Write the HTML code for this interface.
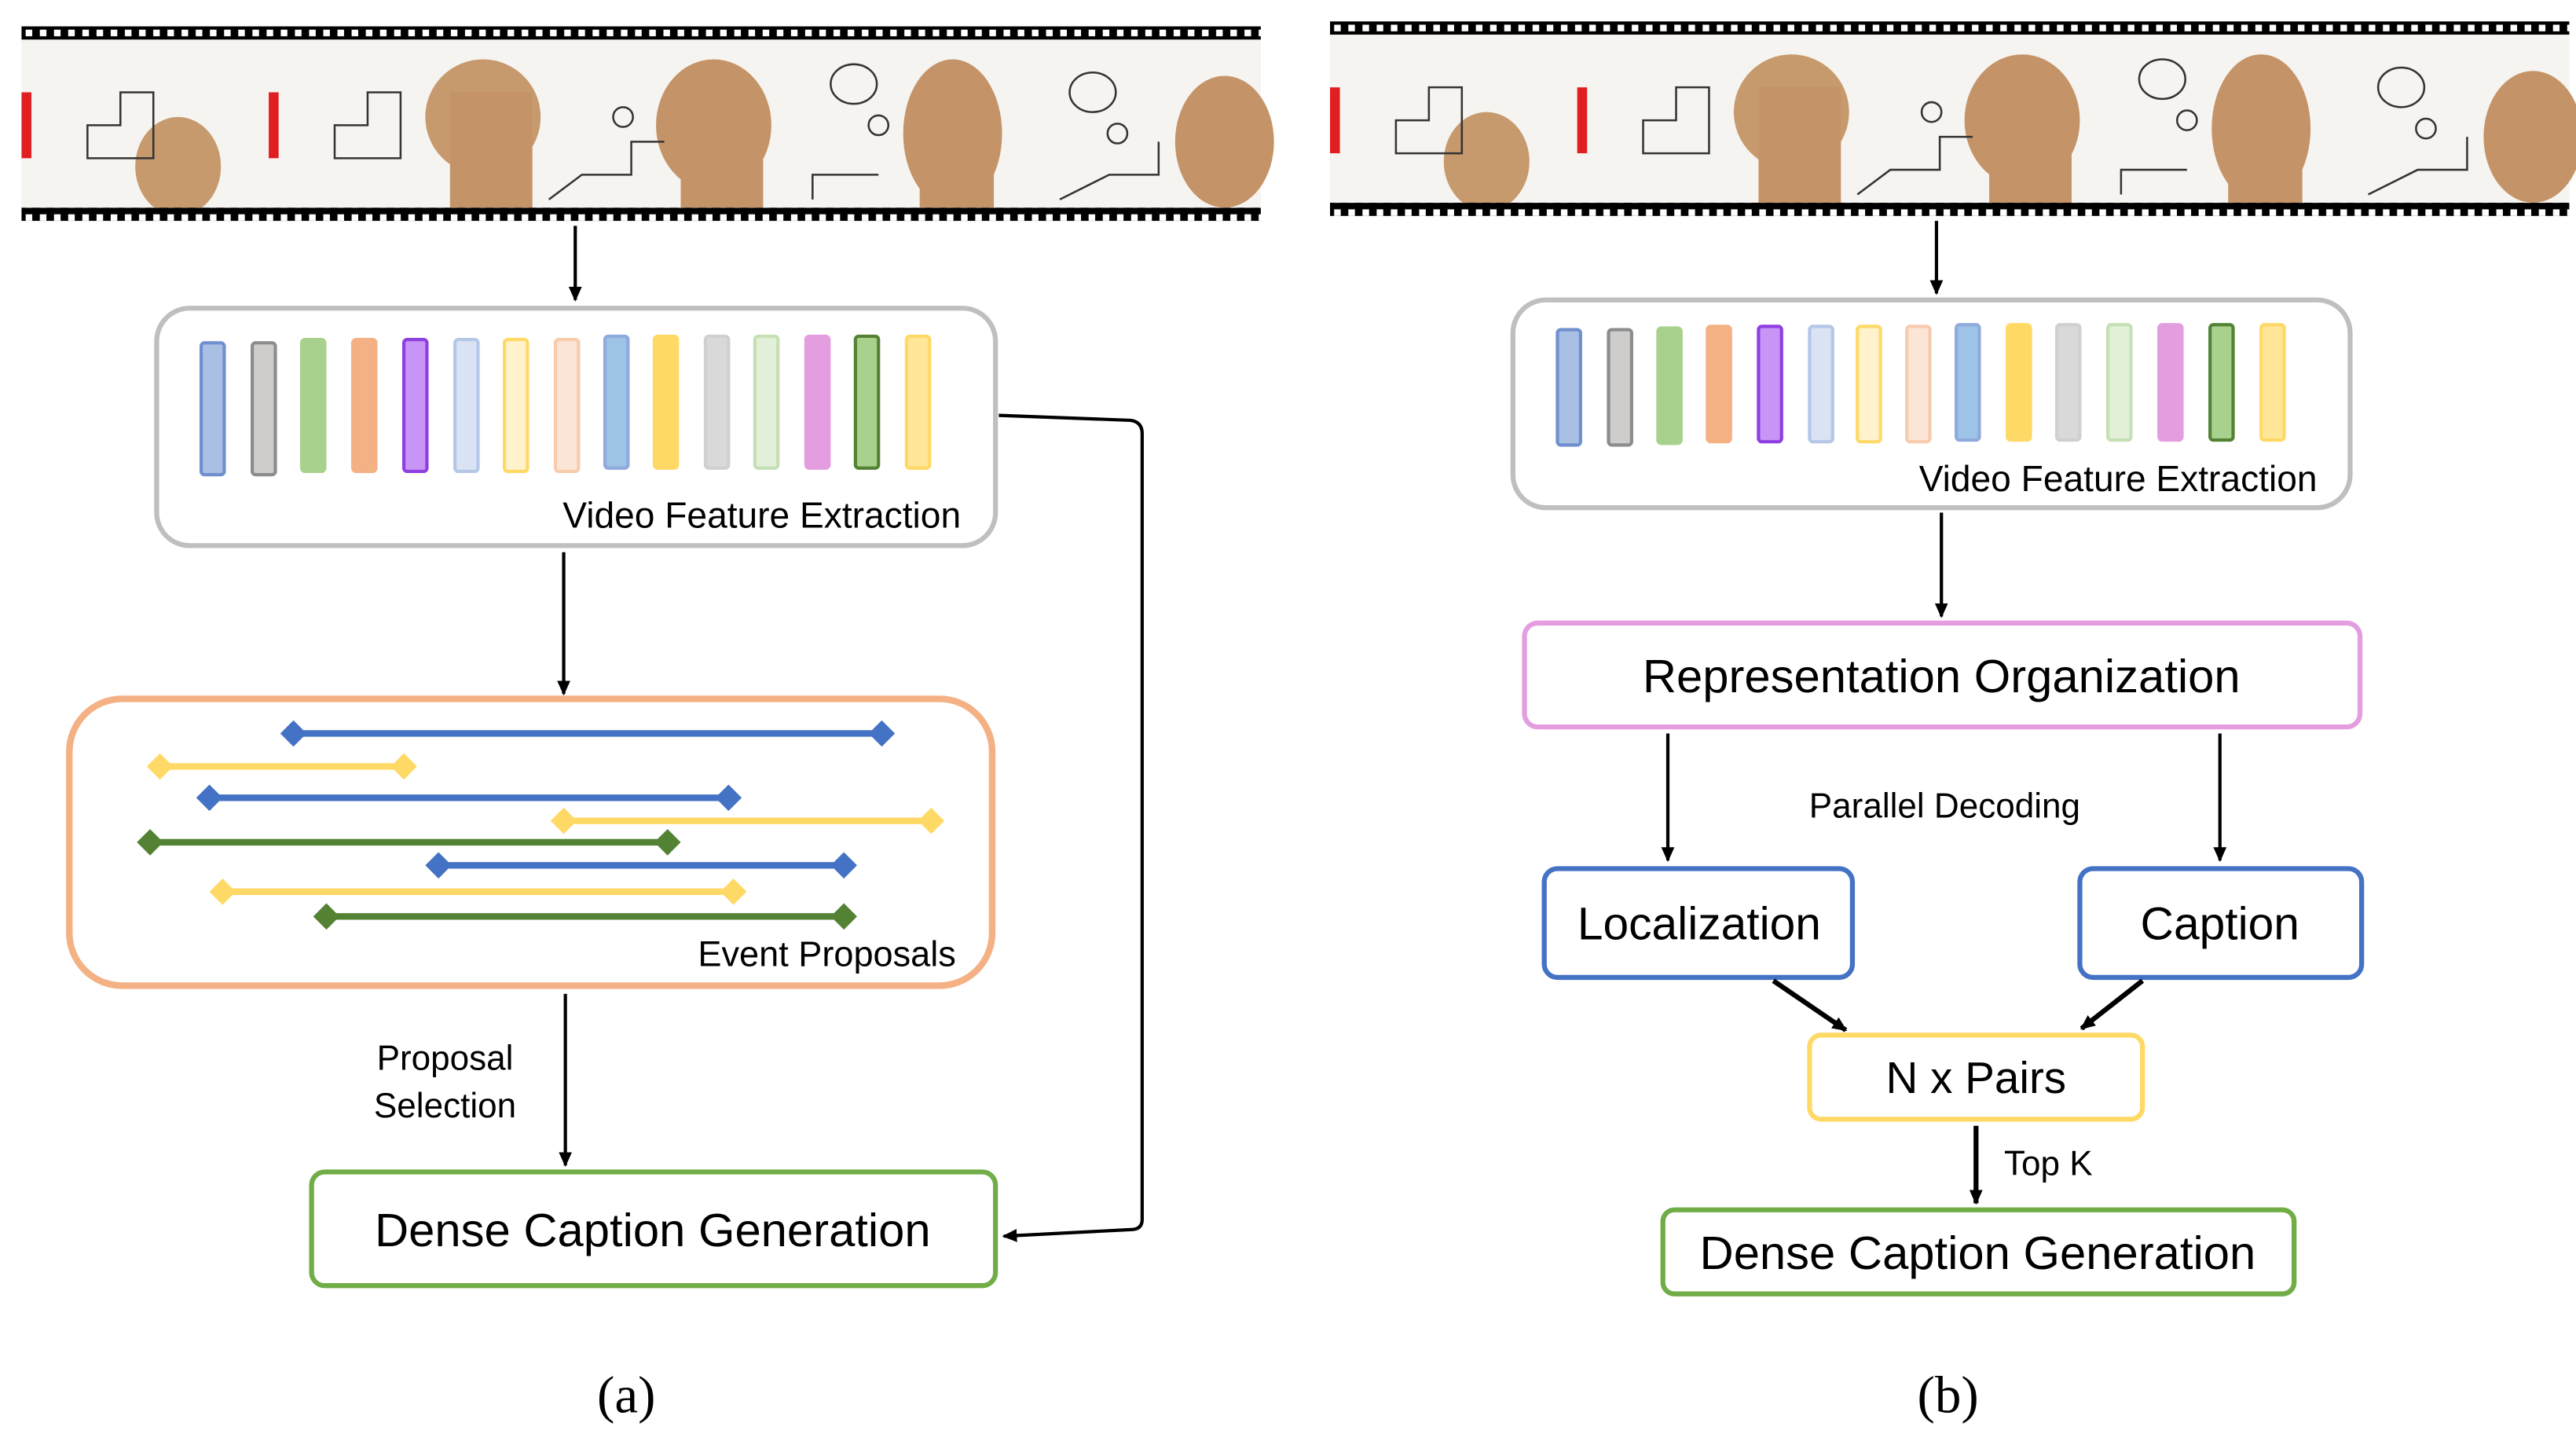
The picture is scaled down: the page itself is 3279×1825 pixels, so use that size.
<!DOCTYPE html>
<html><head><meta charset="utf-8"><style>html,body{margin:0;padding:0;background:#fff}svg{display:block}</style></head><body>
<svg width="3279" height="1825" viewBox="0 0 1563 870" xmlns="http://www.w3.org/2000/svg" font-family="'Liberation Sans',sans-serif">
<defs>
<pattern id="holes" x="0" y="0" width="8.6" height="8" patternUnits="userSpaceOnUse"><rect width="8.6" height="8" fill="#000"/><rect x="2.5" y="2" width="4" height="4" fill="#fff"/></pattern>
<marker id="ar" markerWidth="10" markerHeight="10" refX="8" refY="5" orient="auto" markerUnits="userSpaceOnUse"><path d="M0,1 L9,5 L0,9 Z" fill="#000"/></marker>
<g id="frames">
<rect x="0" y="7" width="752" height="103" fill="#f6f4f1"/>
<rect x="0" y="40" width="6" height="40" fill="#e02020"/>
<rect x="150" y="40" width="6" height="40" fill="#e02020"/>
<ellipse cx="95" cy="85" rx="26" ry="30" fill="#c79a6e"/>
<ellipse cx="280" cy="55" rx="35" ry="35" fill="#c79a6e"/>
<rect x="260" y="40" width="50" height="70" fill="#c49468"/>
<ellipse cx="420" cy="60" rx="35" ry="40" fill="#c49468"/><rect x="400" y="60" width="50" height="50" fill="#c49468"/>
<ellipse cx="565" cy="65" rx="30" ry="45" fill="#c49468"/><rect x="545" y="50" width="45" height="60" fill="#c49468"/>
<ellipse cx="730" cy="70" rx="30" ry="40" fill="#c49468"/>
<g stroke="#333" stroke-width="1.2" fill="none">
<path d="M40 80 L40 60 L60 60 L60 40 L80 40 L80 80 Z"/><path d="M190 80 L190 60 L210 60 L210 40 L230 40 L230 80 Z"/>
<path d="M320 105 L340 90 L370 90 L370 70 L390 70"/><path d="M480 105 L480 90 L520 90"/><path d="M630 105 L660 90 L690 90 L690 70"/>
<circle cx="365" cy="55" r="6"/><circle cx="520" cy="60" r="6"/><circle cx="665" cy="65" r="6"/>
<ellipse cx="505" cy="35" rx="14" ry="12"/><ellipse cx="650" cy="40" rx="14" ry="12"/>
</g>
</g>
</defs>
<rect width="1563" height="870" fill="#fff"/>
<g transform="translate(13,16)">
<use href="#frames"/>
<rect x="0" y="0" width="752" height="8" fill="url(#holes)"/>
<rect x="0" y="110" width="752" height="8" fill="url(#holes)"/>
</g>
<g transform="translate(807,13)">
<use href="#frames"/>
<rect x="0" y="0" width="752" height="8" fill="url(#holes)"/>
<rect x="0" y="110" width="752" height="8" fill="url(#holes)"/>
</g>

<line x1="349" y1="137" x2="349" y2="182" stroke="#000" stroke-width="2" marker-end="url(#ar)"/>
<rect x="95" y="187" width="509" height="144" rx="20" fill="#fff" stroke="#bfbfbf" stroke-width="3"/>
<g stroke-width="2">
<rect x="122" y="208" width="14" height="80" rx="2" fill="#a9bfe3" stroke="#6f8fcf"/>
<rect x="153" y="208" width="14" height="80" rx="2" fill="#cfcccc" stroke="#8c8c8c"/>
<rect x="183" y="206" width="14" height="80" rx="2" fill="#a9d18e" stroke="#a9d18e"/>
<rect x="214" y="206" width="14" height="80" rx="2" fill="#f4b183" stroke="#f4b183"/>
<rect x="245" y="206" width="14" height="80" rx="2" fill="#c895f7" stroke="#8e3fe0"/>
<rect x="276" y="206" width="14" height="80" rx="2" fill="#dae3f3" stroke="#b4c7e7"/>
<rect x="306" y="206" width="14" height="80" rx="2" fill="#fff2cc" stroke="#ffd966"/>
<rect x="337" y="206" width="14" height="80" rx="2" fill="#fbe5d6" stroke="#f8cbad"/>
<rect x="367" y="204" width="14" height="80" rx="2" fill="#9dc3e6" stroke="#8faadc"/>
<rect x="397" y="204" width="14" height="80" rx="2" fill="#ffd966" stroke="#ffd966"/>
<rect x="428" y="204" width="14" height="80" rx="2" fill="#d9d9d9" stroke="#d0d0d0"/>
<rect x="458" y="204" width="14" height="80" rx="2" fill="#e2f0d9" stroke="#c5e0b4"/>
<rect x="489" y="204" width="14" height="80" rx="2" fill="#e49ee0" stroke="#e49ee0"/>
<rect x="519" y="204" width="14" height="80" rx="2" fill="#a9d18e" stroke="#548235"/>
<rect x="550" y="204" width="14" height="80" rx="2" fill="#ffe699" stroke="#ffd966"/>
</g>
<text x="583" y="320" font-size="22" text-anchor="end">Video Feature Extraction</text>

<line x1="342" y1="335" x2="342" y2="421" stroke="#000" stroke-width="2" marker-end="url(#ar)"/>
<rect x="42" y="424" width="560" height="174" rx="32" fill="#fff" stroke="#f4b183" stroke-width="4"/>
<g stroke-width="4">
<line x1="178" y1="445" x2="535" y2="445" stroke="#4472c4"/>
<line x1="97" y1="465" x2="245" y2="465" stroke="#ffd966"/>
<line x1="127" y1="484" x2="442" y2="484" stroke="#4472c4"/>
<line x1="342" y1="498" x2="565" y2="498" stroke="#ffd966"/>
<line x1="91" y1="511" x2="405" y2="511" stroke="#548235"/>
<line x1="266" y1="525" x2="512" y2="525" stroke="#4472c4"/>
<line x1="135" y1="541" x2="445" y2="541" stroke="#ffd966"/>
<line x1="198" y1="556" x2="512" y2="556" stroke="#548235"/>
</g>
<g>
<path d="M178 437 l8 8 -8 8 -8 -8z M535 437 l8 8 -8 8 -8 -8z M127 476 l8 8 -8 8 -8 -8z M442 476 l8 8 -8 8 -8 -8z M266 517 l8 8 -8 8 -8 -8z M512 517 l8 8 -8 8 -8 -8z" fill="#4472c4"/>
<path d="M97 457 l8 8 -8 8 -8 -8z M245 457 l8 8 -8 8 -8 -8z M342 490 l8 8 -8 8 -8 -8z M565 490 l8 8 -8 8 -8 -8z M135 533 l8 8 -8 8 -8 -8z M445 533 l8 8 -8 8 -8 -8z" fill="#ffd966"/>
<path d="M91 503 l8 8 -8 8 -8 -8z M405 503 l8 8 -8 8 -8 -8z M198 548 l8 8 -8 8 -8 -8z M512 548 l8 8 -8 8 -8 -8z" fill="#548235"/>
</g>
<text x="580" y="586" font-size="21.5" text-anchor="end">Event Proposals</text>

<line x1="343" y1="603" x2="343" y2="707" stroke="#000" stroke-width="2" marker-end="url(#ar)"/>
<text x="270" y="649" font-size="21" text-anchor="middle">Proposal</text>
<text x="270" y="678" font-size="21" text-anchor="middle">Selection</text>
<rect x="189" y="711" width="415" height="69" rx="8" fill="#fff" stroke="#70ad47" stroke-width="3"/>
<text x="396" y="756" font-size="28.5" text-anchor="middle">Dense Caption Generation</text>
<path d="M606 252 L686 255 Q693 256 693 263 L693 740 Q693 746 686 746 L609 750" fill="none" stroke="#000" stroke-width="2" marker-end="url(#ar)"/>
<text x="380" y="857" font-size="32" font-family="'Liberation Serif',serif" text-anchor="middle">(a)</text>

<line x1="1175" y1="134" x2="1175" y2="178" stroke="#000" stroke-width="2" marker-end="url(#ar)"/>
<rect x="918" y="182" width="508" height="126" rx="20" fill="#fff" stroke="#bfbfbf" stroke-width="3"/>
<g stroke-width="2">
<rect x="945" y="200" width="14" height="70" rx="2" fill="#a9bfe3" stroke="#6f8fcf"/>
<rect x="976" y="200" width="14" height="70" rx="2" fill="#cfcccc" stroke="#8c8c8c"/>
<rect x="1006" y="199" width="14" height="70" rx="2" fill="#a9d18e" stroke="#a9d18e"/>
<rect x="1036" y="198" width="14" height="70" rx="2" fill="#f4b183" stroke="#f4b183"/>
<rect x="1067" y="198" width="14" height="70" rx="2" fill="#c895f7" stroke="#8e3fe0"/>
<rect x="1098" y="198" width="14" height="70" rx="2" fill="#dae3f3" stroke="#b4c7e7"/>
<rect x="1127" y="198" width="14" height="70" rx="2" fill="#fff2cc" stroke="#ffd966"/>
<rect x="1157" y="198" width="14" height="70" rx="2" fill="#fbe5d6" stroke="#f8cbad"/>
<rect x="1187" y="197" width="14" height="70" rx="2" fill="#9dc3e6" stroke="#8faadc"/>
<rect x="1218" y="197" width="14" height="70" rx="2" fill="#ffd966" stroke="#ffd966"/>
<rect x="1248" y="197" width="14" height="70" rx="2" fill="#d9d9d9" stroke="#d0d0d0"/>
<rect x="1279" y="197" width="14" height="70" rx="2" fill="#e2f0d9" stroke="#c5e0b4"/>
<rect x="1310" y="197" width="14" height="70" rx="2" fill="#e49ee0" stroke="#e49ee0"/>
<rect x="1341" y="197" width="14" height="70" rx="2" fill="#a9d18e" stroke="#548235"/>
<rect x="1372" y="197" width="14" height="70" rx="2" fill="#ffe699" stroke="#ffd966"/>
</g>
<text x="1406" y="298" font-size="22" text-anchor="end">Video Feature Extraction</text>
<line x1="1178" y1="311" x2="1178" y2="374" stroke="#000" stroke-width="2" marker-end="url(#ar)"/>
<rect x="925" y="378" width="507" height="63" rx="8" fill="#fff" stroke="#e49ee0" stroke-width="3"/>
<text x="1178" y="420" font-size="28.5" text-anchor="middle">Representation Organization</text>
<line x1="1012" y1="445" x2="1012" y2="522" stroke="#000" stroke-width="2" marker-end="url(#ar)"/>
<line x1="1347" y1="445" x2="1347" y2="522" stroke="#000" stroke-width="2" marker-end="url(#ar)"/>
<text x="1180" y="496" font-size="21" text-anchor="middle">Parallel Decoding</text>
<rect x="937" y="527" width="187" height="66" rx="8" fill="#fff" stroke="#4472c4" stroke-width="3"/>
<text x="1031" y="570" font-size="28" text-anchor="middle">Localization</text>
<rect x="1262" y="527" width="171" height="66" rx="8" fill="#fff" stroke="#4472c4" stroke-width="3"/>
<text x="1347" y="570" font-size="28" text-anchor="middle">Caption</text>
<line x1="1076" y1="595" x2="1120" y2="625" stroke="#000" stroke-width="3" marker-end="url(#ar)"/>
<line x1="1300" y1="595" x2="1263" y2="624" stroke="#000" stroke-width="3" marker-end="url(#ar)"/>
<rect x="1098" y="628" width="202" height="51" rx="7" fill="#fff" stroke="#ffd966" stroke-width="3"/>
<text x="1199" y="663" font-size="27" text-anchor="middle">N x Pairs</text>
<line x1="1199" y1="683" x2="1199" y2="730" stroke="#000" stroke-width="3" marker-end="url(#ar)"/>
<text x="1216" y="713" font-size="21">Top K</text>
<rect x="1009" y="734" width="383" height="51" rx="7" fill="#fff" stroke="#70ad47" stroke-width="3"/>
<text x="1200" y="770" font-size="28.5" text-anchor="middle">Dense Caption Generation</text>
<text x="1182" y="857" font-size="32" font-family="'Liberation Serif',serif" text-anchor="middle">(b)</text>
</svg>
</body></html>
